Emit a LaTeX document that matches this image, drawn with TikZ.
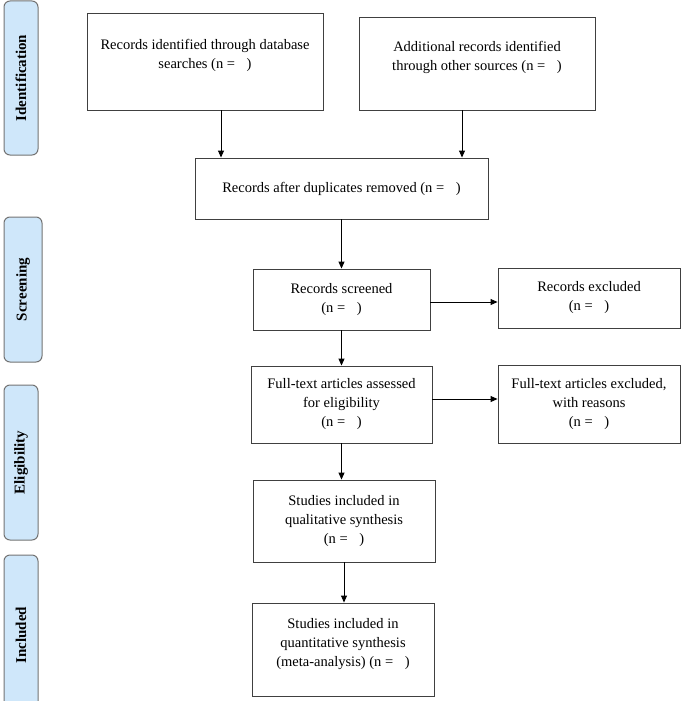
\documentclass[tikz,border=0pt]{standalone}
\usepackage{fontspec}
\setmainfont{Liberation Serif}
\usetikzlibrary{arrows.meta,calc}

\definecolor{stagefill}{RGB}{207,231,250}
\newcommand{\nblank}{(n =\hspace{0.8em})}

\begin{document}
\begin{tikzpicture}[x=1pt, y=-1pt, >={Triangle[length=7pt,width=6pt]},
    box/.style={draw=black!75, line width=0.9pt, align=center, inner sep=0pt,
      font=\fontsize{14.5}{19}\selectfont},
    stage/.style={draw=black!55, line width=1pt, fill=stagefill, rounded corners=6pt,
      rotate=90, inner sep=0pt, font=\fontsize{15}{18}\selectfont\bfseries}]
    \useasboundingbox (0,0) rectangle (687,701);

    % stages on the left
    \node[stage, minimum width=154pt, minimum height=34pt] (ident) at (21,78) {Identification};
    \node[stage, minimum width=145pt, minimum height=38pt] (screen) at (23,289.5) {Screening};
    \node[stage, minimum width=155pt, minimum height=34pt] (elig) at (21,462.5) {Eligibility};
    \node[stage, minimum width=160pt, minimum height=34pt] (incl) at (21,635) {Included};

    % flow boxes
    \node[box, minimum width=236pt, minimum height=97pt, text depth=15pt] (dbase) at (205,61.5)
        {Records identified through database\\searches \nblank};
    \node[box, minimum width=236pt, minimum height=93pt, text depth=15pt] (other) at (477,63.5)
        {Additional records identified\\through other sources \nblank};
    \node[box, minimum width=293pt, minimum height=61pt] (dups) at (341.5,188.5)
        {Records after duplicates removed \nblank};
    \node[box, minimum width=177pt, minimum height=61pt] (screened) at (341.5,299.5)
        {Records screened\\\nblank};
    \node[box, minimum width=182pt, minimum height=60pt] (excluded) at (589,298)
        {Records excluded\\\nblank};
    \node[box, minimum width=181pt, minimum height=77pt] (fulltext) at (341.5,404.5)
        {Full-text articles assessed\\for eligibility\\\nblank};
    \node[box, minimum width=182pt, minimum height=78pt] (ftexcluded) at (589,404)
        {Full-text articles excluded,\\with reasons\\\nblank};
    \node[box, minimum width=182pt, minimum height=82pt] (qual) at (344,521)
        {Studies included in\\qualitative synthesis\\\nblank};
    \node[box, minimum width=182pt, minimum height=93pt, text depth=14pt] (quant) at (343,649.5)
        {Studies included in\\quantitative synthesis\\(meta-analysis) \nblank};

    % arrows
    \draw[->, line width=0.9pt] ([xshift=16pt]dbase.south) -- ([xshift=16pt]dbase.south |- dups.north);
    \draw[->, line width=0.9pt] ([xshift=-15pt]other.south) -- ([xshift=-15pt]other.south |- dups.north);
    \draw[->, line width=0.9pt] (dups.south) -- (dups.south |- screened.north);
    \draw[->, line width=0.9pt] ([yshift=-2.5pt]screened.east) -- ([yshift=-2.5pt]screened.east -| excluded.west);
    \draw[->, line width=0.9pt] (screened.south) -- (fulltext.north);
    \draw[->, line width=0.9pt] ([yshift=5.5pt]fulltext.east) -- ([yshift=5.5pt]fulltext.east -| ftexcluded.west);
    \draw[->, line width=0.9pt] (fulltext.south) -- (fulltext.south |- qual.north);
    \draw[->, line width=0.9pt] (qual.south) -- (qual.south |- quant.north);
\end{tikzpicture}
\end{document}
